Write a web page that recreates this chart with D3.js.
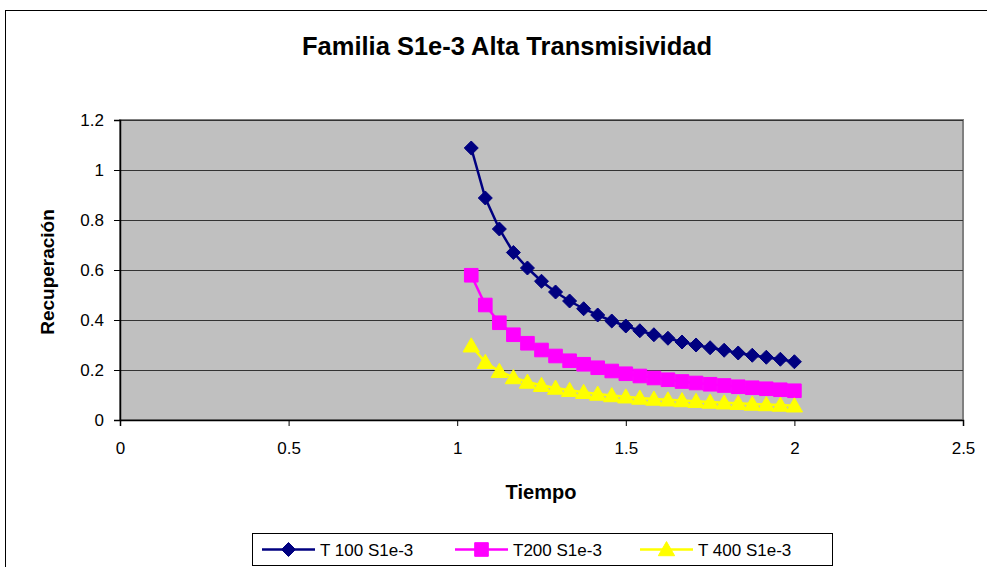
<!DOCTYPE html>
<html>
<head>
<meta charset="utf-8">
<script src="https://cdn.jsdelivr.net/npm/d3@7"></script>
<style>
  html, body { margin: 0; padding: 0; background: #fff; }
  svg { display: block; font-family: Arial, "Liberation Sans", sans-serif; }
</style>
</head>
<body>
<svg id="chart" width="987" height="567"></svg>
<script>
// Time (days): one sample per hour after pumping stopped at t = 1
const tiempo = [
  25/24, 26/24, 27/24, 28/24, 29/24, 30/24, 31/24, 32/24, 33/24, 34/24, 35/24, 36/24,
  37/24, 38/24, 39/24, 40/24, 41/24, 42/24, 43/24, 44/24, 45/24, 46/24, 47/24, 48/24
];
const t100 = [1.088, 0.888, 0.764, 0.670, 0.608, 0.555, 0.512, 0.476, 0.445, 0.420, 0.396, 0.376,
              0.357, 0.341, 0.327, 0.312, 0.300, 0.289, 0.279, 0.268, 0.259, 0.251, 0.243, 0.233];
const t200 = [0.579, 0.460, 0.389, 0.341, 0.307, 0.280, 0.256, 0.237, 0.223, 0.209, 0.196, 0.185,
              0.176, 0.168, 0.161, 0.154, 0.148, 0.143, 0.138, 0.133, 0.129, 0.125, 0.121, 0.117];
const t400 = [0.297, 0.231, 0.195, 0.170, 0.152, 0.139, 0.128, 0.119, 0.111, 0.104, 0.098, 0.093,
              0.088, 0.084, 0.081, 0.078, 0.075, 0.072, 0.069, 0.067, 0.064, 0.062, 0.060, 0.057];
const seriesNames = ["T 100 S1e-3", "T200 S1e-3", "T 400 S1e-3"];
const seriesColors = ["#000080", "#FF00FF", "#FFFF00"];
const seriesSymbols = ["diamond", "square", "triangle"];
const xTicks = [0, 0.5, 1, 1.5, 2, 2.5];
const yTicks = [0, 0.2, 0.4, 0.6, 0.8, 1, 1.2];

const svg = d3.select("#chart");
const plot = { left: 120, top: 120, right: 963, bottom: 420 };

const x = d3.scaleLinear().domain([0, 2.5]).range([plot.left, plot.right]);
const y = d3.scaleLinear().domain([0, 1.2]).range([plot.bottom, plot.top]);

// chart frame
svg.append("rect").attr("x", 5.5).attr("y", 10.5).attr("width", 1000).attr("height", 600)
  .attr("fill", "#fff").attr("stroke", "#000").attr("stroke-width", 1);

// title
svg.append("text").attr("x", 507).attr("y", 55).attr("text-anchor", "middle")
  .attr("font-size", 25.5).attr("font-weight", "bold").text("Familia S1e-3 Alta Transmisividad");

// plot area
svg.append("rect").attr("x", plot.left).attr("y", plot.top)
  .attr("width", plot.right - plot.left).attr("height", plot.bottom - plot.top)
  .attr("fill", "#C0C0C0").attr("stroke", "#808080").attr("stroke-width", 2);

// horizontal gridlines
svg.append("g").selectAll("line").data(yTicks.filter(v => v > 0)).join("line")
  .attr("x1", plot.left).attr("x2", plot.right)
  .attr("y1", d => Math.round(y(d)) + 0.5).attr("y2", d => Math.round(y(d)) + 0.5)
  .attr("stroke", "#333").attr("stroke-width", 1);

// axes
const fmt = d => String(d);
const xAxis = svg.append("g").attr("transform", `translate(0,${plot.bottom})`)
  .call(d3.axisBottom(x).tickValues(xTicks).tickFormat(fmt).tickSize(6).tickPadding(16));
const yAxis = svg.append("g").attr("transform", `translate(${plot.left},0)`)
  .call(d3.axisLeft(y).tickValues(yTicks).tickFormat(fmt).tickSize(6).tickPadding(10));
[xAxis, yAxis].forEach(g => {
  g.select(".domain").attr("stroke", "#000").attr("stroke-width", 1.5);
  g.selectAll(".tick line").attr("stroke", "#000");
  g.selectAll(".tick text").attr("font-size", 17).attr("fill", "#000")
    .attr("font-family", "Arial, 'Liberation Sans', sans-serif");
});
yAxis.selectAll(".tick text").attr("dy", "0.35em");

// axis titles
svg.append("text").attr("x", 541).attr("y", 499).attr("text-anchor", "middle")
  .attr("font-size", 20).attr("font-weight", "bold").text("Tiempo");
svg.append("text").attr("transform", "translate(54,272) rotate(-90)").attr("text-anchor", "middle")
  .attr("font-size", 19).attr("font-weight", "bold").text("Recuperación");

// marker shapes
const symbolType = { diamond: d3.symbolDiamond2, square: d3.symbolSquare, triangle: d3.symbolTriangle };
const symbolSize = { diamond: 125, square: 185, triangle: 115 };
function marker(sel, kind, color) {
  sel.attr("d", d3.symbol().type(symbolType[kind]).size(symbolSize[kind])())
    .attr("fill", color).attr("stroke", color).attr("stroke-width", 1);
}

// series
const allSeries = [t100, t200, t400];
const line = d3.line().x(d => x(d[0])).y(d => y(d[1]));
allSeries.forEach((vals, i) => {
  const pts = tiempo.map((t, j) => [t, vals[j]]);
  const g = svg.append("g");
  g.append("path").datum(pts).attr("d", line)
    .attr("fill", "none").attr("stroke", seriesColors[i]).attr("stroke-width", 2.5);
  g.selectAll("path.m").data(pts).join("path").attr("class", "m")
    .attr("transform", d => `translate(${x(d[0])},${y(d[1]) + (seriesSymbols[i] === "triangle" ? 1.5 : 0)})`)
    .call(s => marker(s, seriesSymbols[i], seriesColors[i]));
});

// legend
const legend = svg.append("g");
legend.append("rect").attr("x", 252.5).attr("y", 533.5).attr("width", 580).attr("height", 32)
  .attr("fill", "#fff").attr("stroke", "#000").attr("stroke-width", 1);
const legendX = [262, 455, 640];
seriesNames.forEach((name, i) => {
  const lx = legendX[i], ly = 549.5;
  legend.append("line").attr("x1", lx).attr("x2", lx + 53).attr("y1", ly).attr("y2", ly)
    .attr("stroke", seriesColors[i]).attr("stroke-width", 2.5);
  legend.append("path").attr("transform", `translate(${lx + 26.5},${ly + (seriesSymbols[i] === "triangle" ? 1.5 : 0)})`)
    .call(s => marker(s, seriesSymbols[i], seriesColors[i]));
  legend.append("text").attr("x", lx + 58).attr("y", ly + 6.5).attr("font-size", 17).text(name);
});
</script>
</body>
</html>
